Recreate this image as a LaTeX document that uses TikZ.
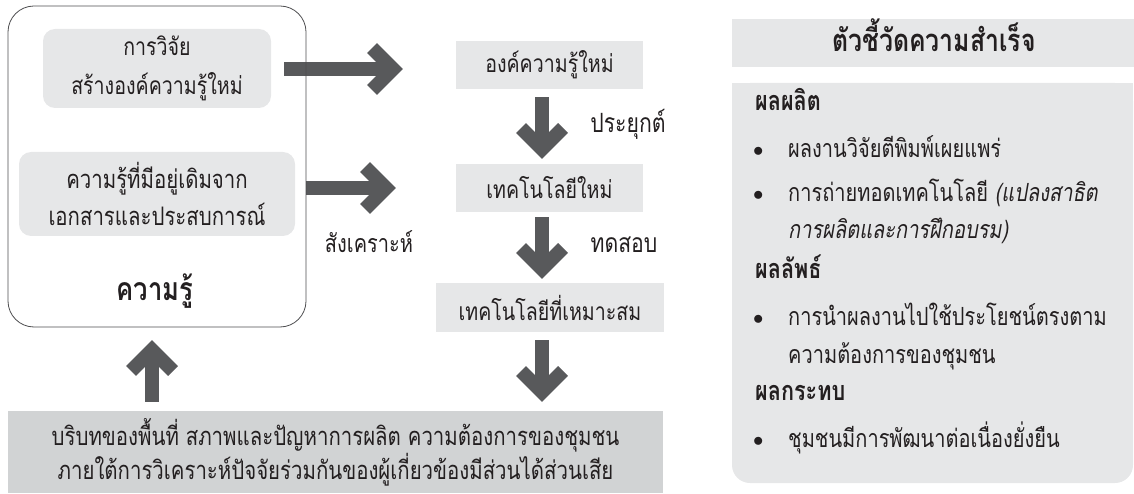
\documentclass[tikz,border=0pt]{standalone}
\usepackage{fontspec}
\newfontfamily\thai[Script=Thai,FakeStretch=0.8,BoldFont={Loma Bold},ItalicFont={Loma Oblique}]{Loma}
\usetikzlibrary{calc}
\definecolor{arrowc}{HTML}{58595B}
\definecolor{lightbox}{HTML}{E6E7E8}
\definecolor{midbox}{HTML}{D1D3D4}
\definecolor{txt}{HTML}{231F20}
\definecolor{frame}{HTML}{4D4D4F}
\begin{document}
\begin{tikzpicture}[x=1pt,y=-1pt,
  every node/.style={text=txt, font=\thai\fontsize{24.5}{38}\selectfont},
  shaft/.style={arrowc, line width=14pt, line cap=butt},
  chev/.style={arrowc, line width=14pt, line join=miter, line cap=butt},
  lbox/.style={fill=lightbox, inner sep=0pt, align=center},
  rbox/.style={lbox, rounded corners=12pt},
  lbl/.style={anchor=base, inner sep=0pt, font=\thai\fontsize{26.5}{30}\selectfont},
  itemtxt/.style={anchor=base west, inner sep=0pt, font=\thai\fontsize{25}{28}\selectfont},
  headtxt/.style={anchor=base west, inner sep=0pt, font=\thai\bfseries\fontsize{27}{30}\selectfont},
  bul/.style={anchor=base west, inner sep=0pt, font=\fontsize{21}{24}\selectfont}
]
\useasboundingbox (0,0) rectangle (1134,494);

% ---- left: knowledge box
\node[rbox, minimum width=228, minimum height=79, font=\thai\fontsize{24.5}{39}\selectfont] (research) at (157,68.5) {การวิจัย\\สร้างองค์ความรู้ใหม่};
\node[rbox, minimum width=276, minimum height=84, font=\thai\fontsize{25.5}{37}\selectfont] (existing) at (157,194) {ความรู้ที่มีอยู่เดิมจาก\\เอกสารและประสบการณ์};
\node[anchor=base, inner sep=0pt, font=\thai\bfseries\fontsize{32}{36}\selectfont] (knowlbl) at (155,300) {ความรู้};

% ---- middle column
\node[lbox, minimum width=187, minimum height=48] (newk) at (549.5,65) {องค์ความรู้ใหม่};
\node[lbox, minimum width=187, minimum height=48] (newt) at (549.5,188) {เทคโนโลยีใหม่};
\node[lbox, minimum width=228, minimum height=49] (appt) at (550,307.5) {เทคโนโลยีที่เหมาะสม};
\node[lbl] (apply) at (628,133) {ประยุกต์};
\node[lbl] (test) at (624,253) {ทดสอบ};
\node[lbl, font=\thai\fontsize{25}{30}\selectfont] (synth) at (369,252) {สังเคราะห์};

% ---- bottom box
\node[fill=midbox, inner sep=0pt, align=center, minimum width=655, minimum height=82,
      font=\thai\fontsize{25.5}{34}\selectfont] (context) at (335.5,452)
  {บริบทของพื้นที่ สภาพและปัญหาการผลิต ความต้องการของชุมชน\\ภายใต้การวิเคราะห์ปัจจัยร่วมกันของผู้เกี่ยวข้องมีส่วนได้ส่วนเสีย};

% ---- arrows (coordinates)
\coordinate (a1s) at (284,69);  \coordinate (a1t) at (393,69);
\coordinate (a2s) at ($(existing.east)+(11,-6)$); \coordinate (a2t) at (386,188);
\coordinate (d1s) at ($(newk.south)+(-7.5,8)$); \coordinate (d1t) at (542,149);
\coordinate (d2s) at ($(newt.south)+(-7.5,5)$); \coordinate (d2t) at (542,269);
\coordinate (d3s) at ($(appt.south)+(-8,8)$); \coordinate (d3t) at (542,392);
\coordinate (us) at ($(context.north)+(-183.5,-9)$); \coordinate (ut) at (152,350);

\draw[shaft] (a1s) -- (a1t);
\draw[chev] ($(a1t)+(-21,-21)$) -- (a1t) -- ($(a1t)+(-21,21)$);
\draw[shaft] (a2s) -- (a2t);
\draw[chev] ($(a2t)+(-21,-21)$) -- (a2t) -- ($(a2t)+(-21,21)$);
\foreach \s/\t in {d1s/d1t,d2s/d2t,d3s/d3t}{
  \draw[shaft] (\s) -- (\t);
  \draw[chev] ($(\t)+(-21,-21)$) -- (\t) -- ($(\t)+(21,-21)$);
}
\draw[shaft] (us) -- (ut);
\draw[chev] ($(ut)+(-21,21)$) -- (ut) -- ($(ut)+(21,21)$);

% outer knowledge frame (drawn over arrow 1)
\node[draw=frame, line width=0.8pt, rounded corners=26pt, minimum width=298, minimum height=321, inner sep=0pt] (knowledge) at (157,166.5) {};

% ---- right panel
\node[fill=lightbox, inner sep=0pt, minimum width=402, minimum height=48] (indhead) at (933,43) {};
\node[anchor=base, inner sep=0pt, font=\thai\bfseries\fontsize{31}{36}\selectfont] (indtitle) at (934,52) {ตัวชี้วัดความสำเร็จ};
\fill[lightbox, rounded corners=18pt] (732,83) rectangle (1133,483);
\fill[lightbox] (732,83) rectangle (1133,130);

\node[headtxt] (h1) at (755,111) {ผลผลิต};
\node[bul] (b1) at (753,157) {$\bullet$};
\node[itemtxt] (t1) at (788,158) {ผลงานวิจัยตีพิมพ์เผยแพร่};
\node[bul] (b2) at (753,201) {$\bullet$};
\node[itemtxt] (t2) at (788,202) {การถ่ายทอดเทคโนโลยี \textit{(แปลงสาธิต}};
\node[itemtxt] (t2b) at (788,239) {\textit{การผลิตและการฝึกอบรม)}};
\node[headtxt] (h2) at (755,278) {ผลลัพธ์};
\node[bul] (b3) at (753,324) {$\bullet$};
\node[itemtxt] (t3) at (788,325) {การนำผลงานไปใช้ประโยชน์ตรงตาม};
\node[itemtxt] (t3b) at (788,363) {ความต้องการของชุมชน};
\node[headtxt] (h3) at (755,400) {ผลกระทบ};
\node[bul] (b4) at (753,446) {$\bullet$};
\node[itemtxt] (t4) at (788,447) {ชุมชนมีการพัฒนาต่อเนื่องยั่งยืน};
\end{tikzpicture}
\end{document}
